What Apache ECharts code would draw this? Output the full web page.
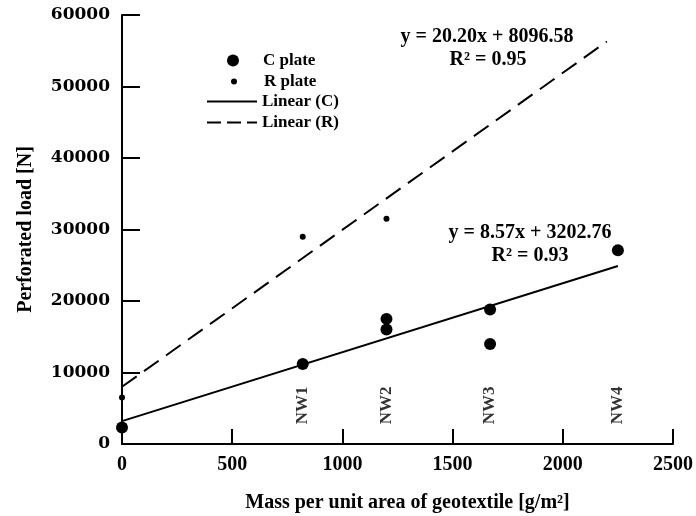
<!DOCTYPE html>
<html>
<head>
<meta charset="utf-8">
<script src="https://cdn.jsdelivr.net/npm/echarts@6/dist/echarts.min.js"></script>
<style>html,body{margin:0;padding:0;background:#fff}#c{width:696px;height:516px}</style>
</head>
<body>
<div id="c"></div>
<script>
// ---- data ----
var nwLabels = ['NW1', 'NW2', 'NW3', 'NW4'];
var nwMass = [820, 1200, 1670, 2250];
var cPlateX = [0, 820, 1200, 1200, 1670, 1670, 2250];
var cPlateY = [2300, 11200, 17500, 16000, 18800, 14000, 27100];
var rPlateX = [0, 820, 1200];
var rPlateY = [6500, 29000, 31500];
var linCX = [0, 2250];
var linCY = [3200, 24900];
var linRX = [0, 2200];
var linRY = [8000, 56300];
var nwLabelLoad = 5400;
var eqR = ['y = 20.20x + 8096.58', 'R\u00B2 = 0.95'];
var eqC = ['y = 8.57x + 3202.76', 'R\u00B2 = 0.93'];

function pairs(xs, ys) { return xs.map(function (x, i) { return [x, ys[i]]; }); }

var SERIF = '"Liberation Serif", "Times New Roman", serif';
var chart = echarts.init(document.getElementById('c'));

function legendAt(name, left, top, h, extra) {
  var l = {
    data: [name], left: left, top: top, orient: 'vertical',
    itemWidth: 50, itemHeight: h, itemGap: 0, padding: 0,
    selectedMode: false,
    textStyle: { fontFamily: SERIF, fontSize: 17, fontWeight: 'bold', color: '#000' }
  };
  if (extra) { for (var k in extra) l[k] = extra[k]; }
  return l;
}

var option = {
  backgroundColor: '#fff',
  animation: false,
  grid: { left: 122, right: 23, top: 15, bottom: 72, containLabel: false, outerBoundsMode: 'none' },
  legend: [
    legendAt('C plate', 227, 52, 12),
    legendAt('R plate', 231, 73, 6),
    legendAt('Linear (C)', 206, 93, 14, { itemStyle: { opacity: 0 }, lineStyle: { width: 2, color: '#000' } }),
    legendAt('Linear (R)', 206, 114, 14, { itemStyle: { opacity: 0 }, lineStyle: { width: 2, color: '#000', type: [14, 6] } })
  ],
  xAxis: {
    type: 'value', min: 0, max: 2500, interval: 500,
    name: 'Mass per unit area of geotextile [g/m\u00B2]',
    nameLocation: 'middle', nameGap: 49,
    nameTextStyle: { fontFamily: SERIF, fontSize: 20, fontWeight: 'bold', color: '#000', padding: [0, 0, 0, 20] },
    axisLine: { show: true, onZero: false, lineStyle: { color: '#000', width: 2 } },
    axisTick: { show: true, inside: true, length: 15, lineStyle: { color: '#000', width: 2 } },
    axisLabel: { margin: 11, fontFamily: SERIF, fontSize: 20, fontWeight: 'bold', color: '#000',
      formatter: function (v) { return String(v); } },
    splitLine: { show: false }
  },
  yAxis: {
    type: 'value', min: 0, max: 60000, interval: 10000,
    name: 'Perforated load [N]',
    nameLocation: 'middle', nameGap: 86, nameRotate: 90,
    nameTextStyle: { fontFamily: SERIF, fontSize: 20, fontWeight: 'bold', color: '#000' },
    axisLine: { show: true, onZero: false, lineStyle: { color: '#000', width: 2 } },
    axisTick: { show: true, inside: true, length: 18, lineStyle: { color: '#000', width: 2 } },
    axisLabel: { margin: 12, fontFamily: '"DejaVu Serif", serif', fontSize: 17, fontWeight: 'bold', color: '#000',
      formatter: function (v) { return String(v); } },
    splitLine: { show: false }
  },
  series: [
    {
      name: 'C plate', type: 'scatter', symbol: 'circle', symbolSize: 12,
      itemStyle: { color: '#000', opacity: 1 }, data: pairs(cPlateX, cPlateY), z: 5
    },
    {
      name: 'R plate', type: 'scatter', symbol: 'circle', symbolSize: 6,
      itemStyle: { color: '#000', opacity: 1 }, data: pairs(rPlateX, rPlateY), z: 5
    },
    {
      name: 'Linear (C)', type: 'line', showSymbol: false, symbol: 'none',
      lineStyle: { color: '#000', width: 2 }, itemStyle: { color: '#000' },
      data: pairs(linCX, linCY)
    },
    {
      name: 'Linear (R)', type: 'line', showSymbol: false, symbol: 'none',
      lineStyle: { color: '#000', width: 2, type: [18, 9] }, itemStyle: { color: '#000' },
      data: pairs(linRX, linRY)
    },
    {
      name: 'NW', type: 'scatter', symbolSize: 0, silent: true,
      data: nwMass.map(function (m, i) { return { name: nwLabels[i], value: [m, nwLabelLoad] }; }),
      label: {
        show: true, position: 'inside', rotate: 90, formatter: '{b}',
        fontFamily: SERIF, fontSize: 17, fontWeight: 'bold', color: '#000'
      }
    }
  ],
  graphic: [
    { type: 'text', x: 487, y: 37, style: { text: eqR[0], align: 'center', verticalAlign: 'middle', font: 'bold 20px ' + SERIF, fill: '#000' } },
    { type: 'text', x: 488, y: 60, style: { text: eqR[1], align: 'center', verticalAlign: 'middle', font: 'bold 20px ' + SERIF, fill: '#000' } },
    { type: 'text', x: 530, y: 233, style: { text: eqC[0], align: 'center', verticalAlign: 'middle', font: 'bold 20px ' + SERIF, fill: '#000' } },
    { type: 'text', x: 530, y: 256, style: { text: eqC[1], align: 'center', verticalAlign: 'middle', font: 'bold 20px ' + SERIF, fill: '#000' } }
  ]
};

chart.setOption(option);
</script>
</body>
</html>
